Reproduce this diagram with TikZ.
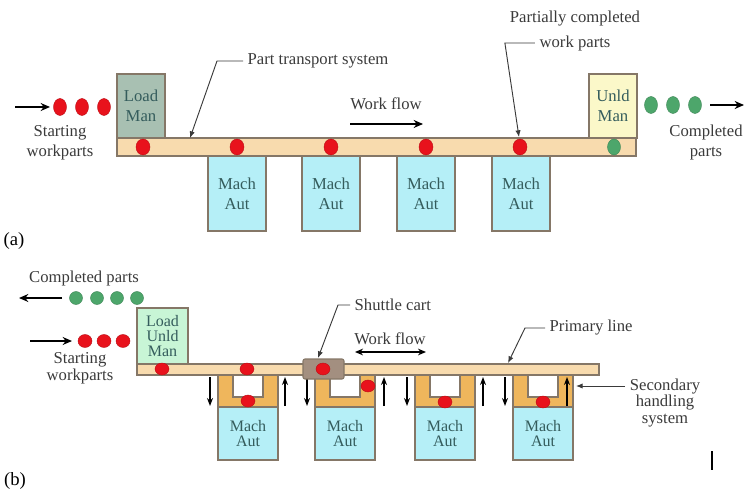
\documentclass[tikz,border=0pt]{standalone}
\usepackage{fontspec}
\setmainfont{Liberation Serif}
\usepackage{xcolor}
\usepackage{tikz}
\usetikzlibrary{arrows.meta,calc}
\definecolor{rail}{HTML}{F8DBAE}
\definecolor{railedge}{HTML}{857767}
\definecolor{machfill}{HTML}{B5EFF7}
\definecolor{loadfill}{HTML}{A8C0B2}
\definecolor{unldfill}{HTML}{FBF8C9}
\definecolor{lufill}{HTML}{C8F5D6}
\definecolor{sechand}{HTML}{EFB65C}
\definecolor{cartfill}{HTML}{A38F80}
\definecolor{partred}{HTML}{E8121C}
\definecolor{partgreen}{HTML}{4DA66B}
\definecolor{boxtext}{HTML}{345C5C}
\definecolor{labeltext}{HTML}{3A3A3A}

\tikzset{
  box/.style={draw=railedge,line width=0.9pt,align=center,text=boxtext,inner sep=0pt,
    font=\fontsize{12.5}{15}\selectfont},
  boxb/.style={box,font=\fontsize{12}{11.2}\selectfont},
  bar/.style={draw=railedge,line width=0.9pt,fill=rail,inner sep=0pt},
  labl/.style={text=labeltext,align=center,font=\fontsize{12.5}{15}\selectfont},
  lead/.style={draw=labeltext,line width=0.7pt,-{Latex[length=5pt,width=4pt]}},
  flow/.style={line width=1.5pt,-{Stealth[length=7pt,width=6pt]}},
  updown/.style={line width=1.1pt,-{Stealth[length=6pt,width=4.5pt]}},
  redpart/.style={fill=partred,draw=partred!80!black,line width=0.3pt},
  greenpart/.style={fill=partgreen,draw=partgreen!80!black,line width=0.3pt}
}

\begin{document}
\begin{tikzpicture}[x=0.75pt,y=-0.75pt]
  \useasboundingbox (0,0) rectangle (745,495);
  % (a) in-line transfer line
  \begin{scope}
    \foreach \x [count=\i] in {237,331,426,521}
      \node[box,fill=machfill,minimum width=43.5pt,minimum height=56.25pt] (ma\i) at (\x,193.5) {Mach\\Aut};
    \node[box,fill=loadfill,minimum width=36pt,minimum height=48pt] (lda) at (141,106) {Load\\Man};
    \node[box,fill=unldfill,minimum width=36pt,minimum height=48pt] (ula) at (613,106) {Unld\\Man};
    \node[bar,minimum width=389.25pt,minimum height=13.5pt] (bara) at (376.5,147) {};
    \foreach \x in {143,237,331,426,520}
      \fill[redpart] (\x,147) ellipse [x radius=7,y radius=8];
    \fill[greenpart] (614,147) ellipse [x radius=6.5,y radius=8];
    % starting and completed parts
    \foreach \x in {60,82,104}
      \fill[redpart] (\x,107) ellipse [x radius=6.5,y radius=8.5];
    \foreach \x in {651,673,695}
      \fill[greenpart] (\x,105) ellipse [x radius=6.5,y radius=8.5];
    \coordinate (sa1) at (15,107);
    \coordinate (sa2) at (50,107);
    \draw[flow] (sa1) -- (sa2);
    \coordinate (ca1) at (710,105);
    \coordinate (ca2) at (744,105);
    \draw[flow] (ca1) -- (ca2);
    \node[labl] (swa) at (60,143) {Starting\\workparts};
    \node[labl] (cpa) at (706,142) {Completed\\parts};
    % labels
    \node[labl] (wfa) at (386,104) {Work flow};
    \coordinate (wa1) at (350,124);
    \coordinate (wa2) at (423,124);
    \draw[flow] (wa1) -- (wa2);
    \node[labl,anchor=west] (pts) at (243,61) {Part transport system};
    \coordinate (pta) at (190,138);
    \draw[lead] (pts.west) -- ++(-26,0) -- (pta);
    \node[labl] (pcw1) at (575,19) {Partially completed};
    \node[labl] (pcw2) at (575,43) {work parts};
    \coordinate (pcwa) at (519,137);
    \draw[lead] (pcw2.west) -- ++(-30,0) -- (pcwa);
    \node[font=\fontsize{14}{16}\selectfont] (tag a) at (14,241) {(a)};
  \end{scope}
  % (b) partial automation with secondary handling
  \begin{scope}
    \foreach \xl/\xu [count=\i] in {218/285,315/384,415/483,513/567} {
      \filldraw[fill=sechand,draw=railedge,line width=0.8pt] (\xl,375) -- ++(0,32) -- ++(60,0)
        -- ++(0,-32) -- ++(-15,0) -- ++(0,22) -- ++(-30,0) -- ++(0,-22) -- cycle;
      \node[boxb,fill=machfill,minimum width=45pt,minimum height=39.75pt] (mb\i) at (\xl+30,433.5) {Mach\\Aut};
      \coordinate (dn\i a) at (\xl-8,377);
      \coordinate (dn\i b) at (\xl-8,406);
      \coordinate (up\i a) at (\xu,406);
      \coordinate (up\i b) at (\xu,377);
      \draw[updown] (dn\i a) -- (dn\i b);
      \draw[updown] (up\i a) -- (up\i b);
    }
    \node[bar,minimum width=346.5pt,minimum height=8.25pt] (barb) at (368,369.5) {};
    \node[boxb,fill=lufill,minimum width=38.25pt,minimum height=42pt] (ldb) at (162.5,336) {Load\\Unld\\Man};
    \node[draw=railedge,fill=cartfill,line width=0.8pt,rounded corners=1.5pt,
      minimum width=30.75pt,minimum height=15pt,inner sep=0pt] (cart) at (323.5,369) {};
    \foreach \x/\y in {162/369,247/369,323/369,248/401,368/386,445/402,543/402}
      \fill[redpart] (\x,\y) ellipse [x radius=7,y radius=6];
    % starting and completed parts
    \foreach \x in {76,97,117,137}
      \fill[greenpart] (\x,298) circle [radius=6.5];
    \foreach \x in {85,104,123}
      \fill[redpart] (\x,341) ellipse [x radius=7,y radius=6.5];
    \node[labl] (cpb) at (84,278) {Completed parts};
    \coordinate (cb1) at (62,298);
    \coordinate (cb2) at (19,298);
    \draw[flow,line width=1.2pt] (cb1) -- (cb2);
    \coordinate (sb1) at (30,341);
    \coordinate (sb2) at (72,341);
    \draw[flow,line width=1.2pt] (sb1) -- (sb2);
    \node[labl,font=\fontsize{12.5}{12.75}\selectfont] (swb) at (80,368) {Starting\\workparts};
    % labels
    \node[labl] (wfb) at (390,339) {Work flow};
    \coordinate (wb1) at (355,352);
    \coordinate (wb2) at (426,352);
    \draw[line width=1.2pt,{Stealth[length=6pt,width=5pt]}-{Stealth[length=6pt,width=5pt]}] (wb1) -- (wb2);
    \node[labl,anchor=west] (shc) at (350,305) {Shuttle cart};
    \coordinate (cta) at (318,358);
    \draw[lead] (shc.west) -- ++(-12,0) -- (cta);
    \node[labl,anchor=west] (pl) at (545,328) {Primary line};
    \coordinate (pla) at (508,363);
    \draw[lead] (pl.west) -- ++(-20,0) -- (pla);
    \node[labl,font=\fontsize{12.5}{12.5}\selectfont] (shs) at (665,403) {Secondary\\handling\\system};
    \coordinate (sha) at (576,386);
    \draw[lead] (shs.west |- sha) -- (sha);
    \coordinate (mk1) at (712,451);
    \coordinate (mk2) at (712,470);
    \draw[line width=2pt] (mk1) -- (mk2);
    \node[font=\fontsize{14}{16}\selectfont] (tag b) at (15,481) {(b)};
  \end{scope}
\end{tikzpicture}
\end{document}
